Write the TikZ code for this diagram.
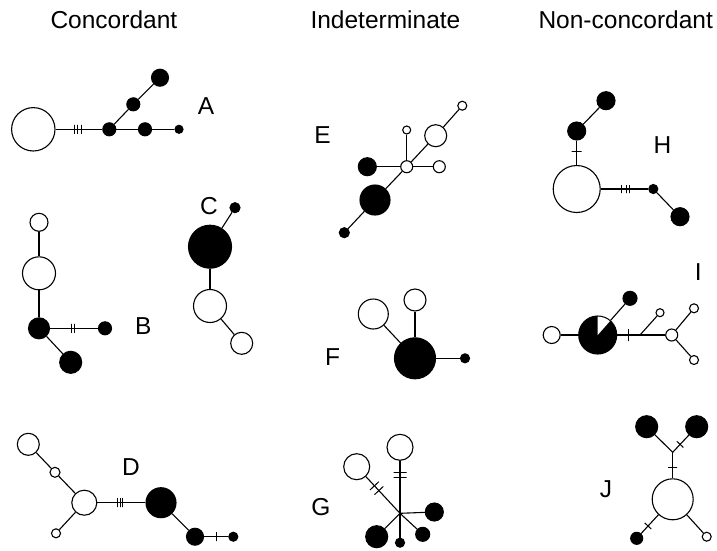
\documentclass[tikz,border=0pt]{standalone}
\usepackage{fontspec}
\setmainfont{Liberation Sans}
\usetikzlibrary{calc}
\begin{document}
\begin{tikzpicture}[x=1pt,y=-1pt, line width=1.1pt,
 op/.style={circle, draw, fill=white, inner sep=0, minimum size=#1},
 bk/.style={circle, draw, fill=black, inner sep=0, minimum size=#1},
 tk/.style={sloped, draw, inner sep=0, minimum width=0, minimum height=#1, line width=1pt},
 tk/.default=9,
 ttl/.style={anchor=base west, inner sep=0, font=\fontsize{24.5}{28}\selectfont},
 lbl/.style={inner sep=0, font=\fontsize{24.5}{28}\selectfont}]
\useasboundingbox[fill=white] (0,0) rectangle (717,550);

% titles
\node[ttl] (t1) at (50,28) {Concordant};
\node[ttl] (t2) at (310,28) {Indeterminate};
\node[ttl] (t3) at (538,28) {Non-concordant};

% A
\node[op=43.4] (a0) at (33.3,129.3) {};
\node[bk=13] (a1) at (109.3,129.3) {};
\node[bk=13] (a2) at (145,129.3) {};
\node[bk=8] (a3) at (179,129.3) {};
\node[bk=13] (a4) at (133.3,104.3) {};
\node[bk=17] (a5) at (160,77.7) {};
\draw (a0) -- node[tk,pos=.397]{} node[tk,pos=.475]{} node[tk,pos=.559]{} (a1);
\draw (a1) -- (a2);
\draw (a2) -- (a3);
\draw (a1) -- (a4);
\draw (a4) -- (a5);
\node[lbl] (la) at (206,106) {A};

% B
\node[op=18] (b0) at (39,222.3) {};
\node[op=33] (b1) at (39,273.3) {};
\node[bk=21] (b2) at (39,328.3) {};
\node[bk=13] (b3) at (105,328.3) {};
\node[bk=22] (b4) at (70.7,362.3) {};
\draw (b0) -- (b1);
\draw (b1) -- (b2);
\draw (b2) -- node[tk,pos=.438]{} node[tk,pos=.52]{} (b3);
\draw (b2) -- (b4);
\node[lbl] (lb) at (143.3,326) {B};

% C
\node[bk=10] (c0) at (235,207.7) {};
\node[bk=43] (c1) at (210,246.7) {};
\node[op=33] (c2) at (210,306) {};
\node[op=22] (c3) at (241.7,343.3) {};
\draw (c0) -- (c1);
\draw (c1) -- (c2);
\draw (c2) -- (c3);
\node[lbl] (lc) at (209,206) {C};

% D
\node[op=22] (d0) at (28.3,444.3) {};
\node[op=10] (d1) at (55,472.3) {};
\node[op=25] (d2) at (84.3,502.7) {};
\node[op=9] (d3) at (56,533.3) {};
\node[bk=30] (d4) at (161,502.7) {};
\node[bk=17] (d5) at (195,536.7) {};
\node[bk=9] (d6) at (233.3,536.7) {};
\draw (d0) -- (d1);
\draw (d1) -- (d2);
\draw (d2) -- (d3);
\draw (d2) -- node[tk,pos=.423]{} node[tk,pos=.474]{} node[tk,pos=.524]{} (d4);
\draw (d4) -- (d5);
\draw (d5) -- node[tk,pos=.525]{} (d6);
\node[lbl] (ld) at (131,467) {D};

% E
\node[op=9] (e0) at (462.3,105.7) {};
\node[op=22] (e1) at (435.7,135.7) {};
\node[op=8] (e2) at (406.7,130) {};
\node[op=12] (e3) at (406.7,166.7) {};
\node[op=12] (e4) at (439.3,166.7) {};
\node[bk=18] (e5) at (367.3,166.7) {};
\node[bk=30] (e6) at (375,200) {};
\node[bk=10] (e7) at (344.3,232.7) {};
\draw (e0) -- (e1);
\draw (e1) -- (e3);
\draw (e2) -- (e3);
\draw (e3) -- (e4);
\draw (e5) -- (e3);
\draw (e3) -- (e6);
\draw (e6) -- (e7);
\node[lbl] (le) at (322.5,135) {E};

% F
\node[bk=41] (f0) at (415,358.3) {};
\node[op=22] (f1) at (415,300) {};
\node[op=30] (f2) at (373.3,314) {};
\node[bk=9] (f3) at (465,358.3) {};
\draw (f0) -- (f1);
\draw (f0) -- (f2);
\draw (f0) -- (f3);
\node[lbl] (lf) at (332.5,356.7) {F};

% G
\coordinate (gc) at (400,513.3);
\node[op=26] (g1) at (400,447.3) {};
\node[op=26] (g2) at (356.7,466.7) {};
\node[bk=18] (g3) at (434.3,512) {};
\node[bk=14] (g4) at (422.7,534.3) {};
\node[bk=9] (g5) at (400,542.7) {};
\node[bk=22] (g6) at (376.7,536.7) {};
\draw (gc) -- node[tk=13,pos=.679]{} node[tk=13,pos=.785]{} (g1);
\draw (gc) -- node[tk=12,pos=.62]{} node[tk=12,pos=.75]{} (g2);
\draw (gc) -- (g3);
\draw (gc) -- (g4);
\draw (gc) -- (g5);
\draw (gc) -- (g6);
\node[lbl] (lg) at (321,507.5) {G};

% H
\node[op=47] (h0) at (576.7,189) {};
\node[bk=18] (h1) at (576.7,131) {};
\node[bk=18] (h2) at (606,100.7) {};
\node[bk=9] (h3) at (653.3,189) {};
\node[bk=18] (h4) at (680,216.7) {};
\draw (h1) -- node[tk=10,pos=.455]{} (h0);
\draw (h1) -- (h2);
\draw (h0) -- node[tk=8,pos=.445]{} node[tk=8,pos=.533]{} node[tk=8,pos=.615]{} (h3);
\draw (h3) -- (h4);
\node[lbl] (lh) at (662.5,145) {H};

% I
\node[bk=38] (i0) at (597.7,335) {};
\fill[white] (i0.center) -- ++(-90:18.4) arc[start angle=-90, end angle=-48.6, radius=18.4] -- cycle;
\node[op=17] (i1) at (551.7,335) {};
\node[bk=14] (i2) at (630,298.3) {};
\coordinate (ij) at (640,335);
\node[op=8] (i3) at (660,312.7) {};
\node[op=12] (i4) at (671.7,335) {};
\node[op=9] (i5) at (694,308.3) {};
\node[op=9] (i6) at (694,360) {};
\draw (i1) -- (i0);
\draw (i0) -- (i2);
\draw (i0) -- node[tk=12,pos=.237]{} (i4);
\draw (ij) -- (i3);
\draw (i4) -- (i5);
\draw (i4) -- (i6);
\node[lbl] (li) at (698.3,272.5) {I};

% J
\coordinate (jj) at (672.7,452.3);
\node[bk=22] (j1) at (646.7,426.7) {};
\node[bk=22] (j2) at (696.7,426.7) {};
\node[op=41] (j0) at (672.7,499.3) {};
\node[bk=12] (j3) at (636.7,538.3) {};
\node[op=9] (j4) at (706.7,536.7) {};
\draw (jj) -- (j1);
\draw (jj) -- node[tk,pos=.46]{} (j2);
\draw (jj) -- node[tk,pos=.57]{} (j0);
\draw (j0) -- node[tk,pos=.6]{} (j3);
\draw (j0) -- (j4);
\node[lbl] (lj) at (606,489) {J};
\end{tikzpicture}
\end{document}
